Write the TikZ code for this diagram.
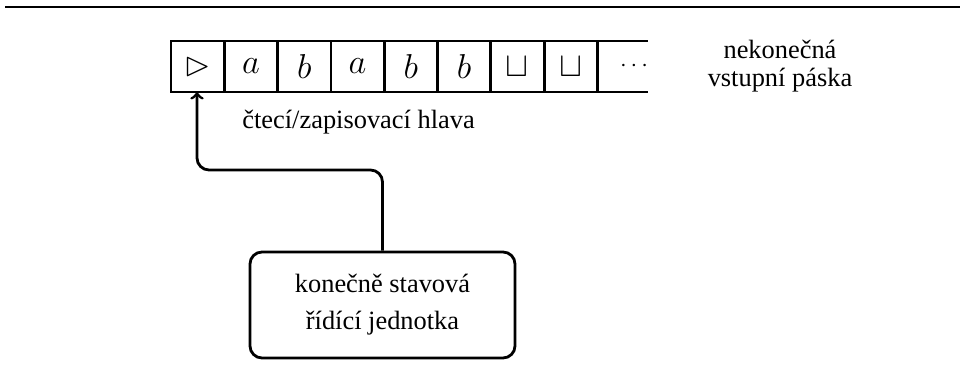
\documentclass[tikz,border=0pt]{standalone}
\usepackage{fontspec}
\setmainfont{Liberation Serif}
\usepackage{amssymb}
\begin{document}
\begin{tikzpicture}[x=0.5pt,y=-0.5pt,
  every node/.style={font=\fontsize{13.2}{14}\selectfont},
  cell/.style={draw, line width=1.4pt, minimum width=26.65pt, minimum height=25.5pt, inner sep=0pt, outer sep=0pt, font=\fontsize{17}{18}\selectfont},
  lbl/.style={align=center, inner sep=0pt},
  unit/.style={draw, line width=1.4pt, rounded corners=6pt, minimum width=132.5pt, minimum height=53pt, align=center, inner sep=0pt, font=\fontsize{13.2}{18.5}\selectfont},
  conn/.style={line width=1.4pt, rounded corners=6pt, ->}]
\useasboundingbox (0,0) rectangle (960,389);
\draw[line width=1pt] (5,7) -- (960,7);
\foreach \i/\s in {0/{$\rhd$},1/{$a$},2/{$b$},3/{$a$},4/{$b$},5/{$b$},6/{$\sqcup$},7/{$\sqcup$}}{
  \node[cell] (c\i) at ({171+26.65+\i*53.3},66.5) {\s};
}
\node[inner sep=0pt] (c8) at (634,66.5) {$\cdots$};
\coordinate (tt) at (648,41);
\coordinate (tb) at (648,92);
\draw[line width=1.4pt] (c7.north east) -- (tt);
\draw[line width=1.4pt] (c7.south east) -- (tb);
\node[lbl] (tape) at (780,66) {nekonečná\\vstupní páska};
\node[lbl, anchor=west] (head) at (242,122) {čtecí/zapisovací hlava};
\node[unit] (fsm) at (382.5,305) {konečně stavová\\řídící jednotka};
\draw[conn] (fsm.north) |- (197,170) -- (c0.south -| 197,0);
\end{tikzpicture}
\end{document}
